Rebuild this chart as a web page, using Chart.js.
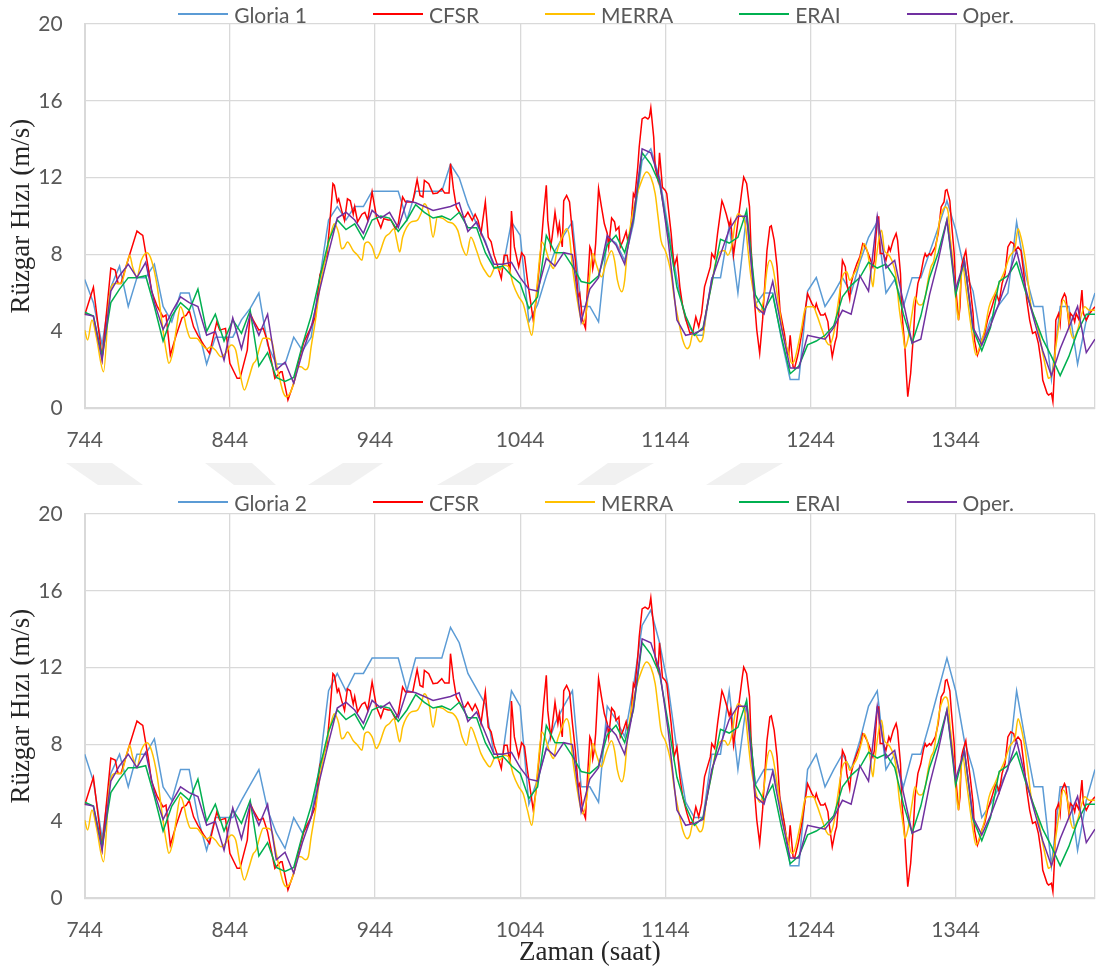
<!DOCTYPE html>
<html>
<head>
<meta charset="utf-8">
<title>Rüzgar Hızı</title>
<script src="https://cdn.jsdelivr.net/npm/chart.js@4.4.1/dist/chart.umd.min.js"></script>
<style>
  html, body { margin: 0; padding: 0; background: #fff; }
  body { width: 1096px; height: 966px; position: relative; overflow: hidden; }
  .wm { position: absolute; left: 0; top: 0; }
  canvas { position: absolute; left: 0; }
  #c1 { top: 0; }
  #c2 { top: 490px; }
  .legend {
    position: absolute; left: 0; width: 1192px; height: 28px;
    display: flex; justify-content: center; align-items: center; gap: 66px;
    font: 21px Lato, "Liberation Sans", sans-serif; color: #595959;
  }
  .legend .item { display: flex; align-items: center; white-space: nowrap; }
  .legend .sw { width: 50px; height: 0; border-top: 2px solid; margin-right: 6px; }
</style>
</head>
<body>
<svg class="wm" width="1096" height="966">
  <g fill="#f1f1f1">
    <polygon points="66,463 112,463 143,485 98,485"/>
    <polygon points="205,463 252,463 276,485 234,485"/>
    <polygon points="343,463 383,463 350,485 308,485"/>
    <polygon points="476,463 514,463 476,485 437,485"/>
    <polygon points="608,463 654,463 615,485 577,485"/>
    <polygon points="741,463 783,463 745,485 706,485"/>
  </g>
</svg>
<canvas id="c1" width="1096" height="470"></canvas>
<div class="legend" id="lg1" style="top:0"></div>
<canvas id="c2" width="1096" height="476"></canvas>
<div class="legend" id="lg2" style="top:488px"></div>

<script>
// Hour labels shown on the time axis
const xTicks = [744, 844, 944, 1044, 1144, 1244, 1344];
const hourMin = 744;
const hourMax = 1440;

// Six-hourly time stamps (Gloria, ERAI, Oper.)
const hours6 = Array.from({ length: 117 }, (_, i) => 744 + 6 * i);

const gloria1Speed = [
  6.7, 5.5, 3.3, 6.3, 7.4, 5.3, 6.8, 6.8, 7.5, 5.3,
  4.5, 6.0, 6.0, 4.2, 2.3, 3.7, 3.7, 3.7, 4.6, 5.2,
  6.0, 3.3, 2.3, 2.3, 3.7, 3.0, 3.7, 6.8, 9.8, 10.5,
  9.8, 10.5, 10.5, 11.3, 11.3, 11.3, 11.3, 9.8, 11.3, 11.3,
  11.3, 11.3, 12.7, 12.0, 10.6, 9.6, 8.7, 7.3, 7.3, 9.7,
  9.0, 4.5, 5.4, 6.9, 8.2, 9.0, 9.7, 5.3, 5.3, 4.5,
  8.9, 8.6, 7.7, 9.6, 12.9, 13.5, 12.0, 9.4, 6.7, 4.6,
  3.8, 3.8, 6.8, 6.8, 9.5, 6.0, 10.1, 5.4, 6.0, 6.0,
  3.6, 1.5, 1.5, 6.1, 6.8, 5.3, 6.0, 6.8, 6.0, 7.6,
  8.9, 9.7, 6.0, 6.7, 5.3, 6.8, 6.8, 8.1, 9.4, 10.8,
  9.3, 7.2, 6.1, 3.3, 4.6, 5.4, 6.0, 9.7, 7.0, 5.3,
  5.3, 1.5, 5.3, 5.3, 2.3, 4.6, 6.0
];

const gloria2Speed = [
  7.5, 6.1, 3.1, 6.5, 7.5, 5.8, 7.5, 7.5, 8.3, 5.8,
  5.1, 6.7, 6.7, 4.2, 2.5, 4.2, 4.2, 4.2, 5.1, 5.9,
  6.7, 4.6, 3.4, 2.6, 4.2, 3.4, 4.2, 7.0, 10.8, 11.7,
  10.8, 11.7, 11.7, 12.5, 12.5, 12.5, 12.5, 10.8, 12.5, 12.5,
  12.5, 12.5, 14.1, 13.3, 11.7, 10.9, 10.1, 7.5, 7.5, 10.8,
  10.0, 4.9, 6.2, 7.8, 9.1, 10.0, 10.8, 5.8, 5.8, 5.0,
  10.0, 9.3, 8.4, 11.0, 14.2, 15.0, 13.3, 11.0, 7.7, 5.0,
  4.2, 4.2, 7.5, 7.5, 10.8, 6.7, 10.2, 5.9, 6.7, 6.7,
  4.9, 1.7, 1.7, 6.7, 7.5, 5.8, 6.7, 7.5, 6.7, 8.2,
  10.0, 10.8, 6.7, 7.5, 5.8, 7.5, 7.5, 9.1, 10.8, 12.5,
  10.8, 8.2, 6.7, 4.2, 4.9, 5.8, 6.7, 10.8, 8.2, 5.8,
  5.8, 1.7, 5.8, 5.8, 2.5, 5.1, 6.7
];

const eraiSpeed = [
  5.0, 4.8, 2.7, 5.5, 6.2, 6.8, 6.8, 6.9, 5.3, 3.5,
  4.8, 5.5, 5.1, 6.2, 4.0, 4.9, 3.5, 4.6, 3.9, 5.1,
  2.2, 2.9, 1.6, 1.4, 1.6, 3.3, 4.8, 6.8, 8.7, 9.8,
  9.3, 9.6, 8.8, 9.8, 10.0, 9.9, 9.2, 9.8, 10.6, 10.2,
  9.9, 10.0, 9.8, 10.2, 9.4, 9.4, 8.1, 7.3, 7.4, 6.9,
  6.5, 5.2, 5.8, 9.0, 8.1, 8.1, 7.4, 6.6, 6.5, 6.9,
  8.5, 9.0, 8.1, 9.8, 13.3, 12.7, 11.7, 9.1, 6.3, 4.8,
  3.8, 4.2, 6.5, 8.8, 8.6, 8.9, 10.3, 5.9, 5.1, 5.9,
  3.7, 1.8, 2.2, 3.3, 3.5, 3.8, 4.3, 5.8, 6.4, 6.8,
  7.6, 7.3, 7.5, 6.8, 4.9, 3.4, 4.8, 6.8, 8.1, 9.8,
  5.9, 7.7, 4.1, 3.0, 4.2, 6.6, 6.9, 7.6, 6.1, 4.8,
  3.6, 2.7, 1.7, 2.7, 4.0, 4.9, 4.9
];

const operSpeed = [
  4.9, 4.8, 2.5, 6.1, 6.9, 7.5, 6.8, 7.6, 5.5, 4.1,
  5.0, 5.8, 5.5, 5.3, 3.8, 4.0, 2.5, 4.7, 3.1, 4.9,
  3.8, 4.9, 2.0, 2.4, 1.3, 2.9, 4.2, 6.2, 8.1, 9.9,
  10.2, 9.8, 9.1, 10.3, 9.9, 10.2, 9.4, 10.8, 10.7, 10.5,
  10.3, 10.4, 10.5, 10.7, 9.2, 9.7, 8.6, 7.5, 7.5, 7.6,
  6.8, 6.2, 6.1, 7.8, 7.4, 8.1, 8.0, 4.5, 6.2, 6.8,
  9.0, 8.5, 7.5, 9.9, 13.5, 13.3, 11.9, 8.7, 4.6, 3.8,
  3.9, 4.1, 6.7, 8.0, 9.3, 10.0, 10.0, 5.3, 4.9, 6.6,
  4.2, 2.1, 2.1, 3.8, 3.7, 3.6, 4.2, 5.1, 4.9, 6.9,
  6.1, 10.0, 7.3, 7.7, 5.5, 3.4, 3.6, 5.9, 7.7, 9.8,
  6.2, 7.7, 4.2, 3.3, 4.3, 5.5, 6.8, 8.2, 6.3, 4.6,
  3.0, 1.7, 3.1, 4.2, 5.3, 2.9, 3.6
];

// CFSR hourly record, turning points
const cfsrHours = [
  744, 750, 756, 762, 765, 767, 769, 775, 780, 782, 784, 788, 790, 794, 798, 800, 803, 807, 811, 814,
  816, 819, 822, 826, 830, 835, 837, 841, 844, 849, 851, 856, 858, 860, 864, 867, 870, 875, 879, 880,
  884, 888, 891, 895, 899, 903, 906, 908, 911, 913, 915, 916, 918, 919, 921, 923, 925, 927, 929, 930,
  932, 935, 937, 939, 942, 945, 948, 950, 953, 955, 958, 960, 963, 965, 967, 970, 973, 975, 977, 978,
  981, 984, 987, 990, 992, 995, 996, 998, 1000, 1004, 1006, 1008, 1011, 1013, 1015, 1017, 1020, 1022, 1024, 1026,
  1028, 1031, 1033, 1035, 1037, 1038, 1040, 1043, 1045, 1047, 1049, 1051, 1053, 1055, 1058, 1060, 1062, 1063, 1065, 1066,
  1068, 1070, 1071, 1073, 1074, 1076, 1078, 1080, 1082, 1084, 1085, 1087, 1089, 1090, 1092, 1093, 1094, 1095, 1096, 1098,
  1100, 1102, 1104, 1105, 1107, 1109, 1110, 1112, 1113, 1115, 1117, 1118, 1120, 1122, 1123, 1125, 1126, 1128, 1130, 1132,
  1133, 1134, 1136, 1137, 1139, 1140, 1142, 1144, 1145, 1147, 1148, 1150, 1152, 1154, 1156, 1159, 1161, 1163, 1165, 1167,
  1169, 1171, 1174, 1175, 1176, 1178, 1180, 1183, 1184, 1186, 1188, 1189, 1191, 1193, 1195, 1197, 1198, 1200, 1202, 1203,
  1205, 1207, 1209, 1211, 1214, 1216, 1217, 1219, 1221, 1223, 1226, 1228, 1229, 1230, 1232, 1233, 1235, 1236, 1238, 1240,
  1242, 1245, 1247, 1248, 1249, 1251, 1253, 1254, 1256, 1257, 1259, 1261, 1262, 1264, 1266, 1268, 1269, 1271, 1272, 1274,
  1276, 1278, 1280, 1281, 1283, 1285, 1287, 1288, 1290, 1291, 1292, 1294, 1296, 1298, 1299, 1301, 1303, 1304, 1306, 1307,
  1309, 1310, 1311, 1313, 1315, 1316, 1318, 1320, 1322, 1323, 1324, 1326, 1327, 1330, 1332, 1334, 1336, 1337, 1338, 1340,
  1341, 1343, 1344, 1346, 1347, 1348, 1349, 1351, 1352, 1354, 1356, 1357, 1359, 1361, 1362, 1364, 1366, 1369, 1371, 1372,
  1374, 1376, 1378, 1380, 1382, 1384, 1385, 1387, 1389, 1391, 1393, 1395, 1397, 1399, 1401, 1403, 1404, 1407, 1408, 1410,
  1411, 1412, 1413, 1415, 1416, 1417, 1418, 1419, 1420, 1422, 1423, 1425, 1426, 1427, 1429, 1431, 1432, 1434, 1436, 1438,
  1440
];
const cfsrSpeed = [
  4.85, 6.3, 2.6, 7.3, 7.2, 6.5, 6.5, 8.0, 9.23, 9.1, 9.0, 7.2, 6.1, 5.3, 4.76, 4.85, 2.77, 3.8, 4.7, 4.85,
  5.1, 4.24, 3.8, 3.3, 2.86, 4.5, 4.07, 4.16, 2.34, 1.56, 1.56, 3.03, 4.94, 4.6, 4.07, 4.16, 3.46, 1.56, 1.9, 1.9,
  0.43, 1.3, 2.34, 3.46, 4.07, 4.76, 6.93, 7.36, 8.05, 9.78, 11.69, 11.6, 10.74, 10.9, 10.3, 9.78, 10.9, 10.8, 10.1, 10.5,
  9.7, 10.1, 10.2, 9.8, 11.26, 9.96, 9.4, 9.87, 9.8, 9.8, 9.35, 9.6, 11.0, 10.74, 10.74, 10.74, 11.9, 11.08, 11.0, 11.86,
  11.69, 11.17, 11.2, 11.43, 11.2, 11.2, 12.73, 11.43, 10.48, 9.96, 9.96, 10.2, 9.78, 10.1, 9.78, 9.1, 10.74, 8.9, 8.66, 7.97,
  7.53, 6.75, 7.97, 7.97, 7.0, 10.27, 8.4, 7.36, 8.1, 7.9, 6.67, 5.63, 4.59, 5.63, 8.05, 9.96, 11.6, 9.78, 8.4, 8.9,
  10.2, 9.1, 9.6, 8.4, 10.8, 11.08, 10.74, 9.1, 7.7, 5.8, 5.97, 4.59, 4.16, 5.8, 8.4, 8.2, 7.27, 7.7, 8.57, 11.43,
  10.48, 9.6, 9.1, 8.4, 9.9, 9.7, 9.26, 9.44, 8.4, 8.75, 9.2, 8.75, 9.2, 11.17, 11.0, 12.55, 13.6, 15.06, 15.15, 15.06,
  15.15, 15.64, 14.1, 12.55, 11.86, 13.3, 11.5, 11.34, 11.17, 9.78, 9.1, 7.36, 7.88, 6.32, 5.28, 4.4, 3.9, 3.98, 4.76, 4.24,
  4.94, 6.32, 7.1, 7.36, 8.05, 7.8, 9.1, 10.8, 10.6, 10.1, 9.5, 9.78, 7.97, 9.1, 10.3, 11.5, 12.03, 11.7, 10.48, 8.4,
  5.97, 4.07, 2.86, 4.6, 8.2, 9.44, 9.5, 8.74, 7.36, 5.1, 3.9, 2.86, 2.8, 3.8, 2.16, 2.08, 2.68, 3.03, 3.9, 4.94,
  5.97, 5.45, 5.2, 5.45, 5.2, 4.85, 4.85, 4.94, 4.5, 3.8, 2.68, 3.46, 3.72, 5.45, 7.7, 7.36, 6.5, 5.7, 6.5, 7.1,
  7.53, 7.88, 8.57, 8.5, 8.2, 7.8, 7.36, 7.7, 9.96, 9.96, 8.05, 8.05, 7.7, 8.4, 8.2, 8.74, 9.1, 8.74, 7.0, 4.94,
  3.2, 1.82, 0.6, 1.82, 3.9, 5.28, 6.5, 7.0, 7.8, 8.05, 7.9, 8.05, 7.97, 8.4, 9.1, 10.48, 10.74, 11.34, 11.38, 10.8,
  9.78, 8.05, 6.32, 4.59, 5.28, 7.36, 7.7, 8.2, 7.53, 6.32, 4.94, 3.55, 2.77, 3.2, 3.55, 3.9, 4.59, 5.28, 5.8, 5.97,
  5.54, 6.5, 7.0, 8.4, 8.66, 8.57, 8.2, 8.4, 8.2, 7.0, 5.63, 4.59, 3.9, 3.98, 3.38, 2.34, 1.47, 0.78, 0.69, 0.78,
  0.35, 1.82, 4.59, 4.94, 4.4, 5.63, 5.8, 5.97, 5.8, 4.4, 4.94, 4.76, 4.5, 4.94, 4.6, 6.15, 4.94, 4.59, 4.9, 5.1,
  5.28
];

// MERRA hourly record, turning points (drawn as a smooth curve)
const merraHours = [
  744, 746, 749, 752, 757, 761, 765, 769, 773, 775, 777, 780, 783, 787, 790, 794, 797, 800, 802, 805,
  807, 810, 812, 814, 817, 821, 825, 828, 831, 834, 838, 841, 845, 848, 851, 854, 857, 860, 862, 865,
  867, 870, 873, 875, 878, 881, 883, 886, 889, 891, 893, 896, 898, 900, 903, 906, 909, 913, 916, 919,
  921, 923, 925, 929, 932, 935, 937, 939, 942, 945, 947, 951, 954, 957, 959, 961, 963, 966, 969, 973,
  976, 978, 981, 984, 987, 991, 994, 998, 1001, 1004, 1007, 1010, 1014, 1017, 1021, 1023, 1027, 1030, 1033, 1036,
  1039, 1043, 1046, 1049, 1052, 1054, 1056, 1059, 1061, 1064, 1067, 1069, 1072, 1076, 1078, 1080, 1083, 1085, 1087, 1090,
  1092, 1094, 1097, 1100, 1103, 1107, 1109, 1111, 1114, 1116, 1118, 1121, 1124, 1127, 1131, 1134, 1137, 1139, 1141, 1144,
  1146, 1148, 1150, 1153, 1156, 1159, 1161, 1163, 1165, 1168, 1170, 1172, 1176, 1179, 1183, 1185, 1187, 1190, 1192, 1194,
  1196, 1199, 1201, 1203, 1206, 1209, 1212, 1214, 1216, 1218, 1221, 1223, 1225, 1229, 1231, 1233, 1235, 1238, 1240, 1242,
  1246, 1248, 1252, 1255, 1257, 1260, 1263, 1266, 1269, 1271, 1274, 1276, 1279, 1281, 1283, 1285, 1287, 1288, 1291, 1293,
  1295, 1297, 1300, 1303, 1305, 1308, 1309, 1311, 1314, 1316, 1318, 1320, 1323, 1325, 1327, 1329, 1331, 1333, 1335, 1337,
  1339, 1340, 1342, 1344, 1346, 1347, 1349, 1351, 1354, 1356, 1358, 1361, 1364, 1367, 1371, 1374, 1378, 1381, 1385, 1387,
  1389, 1392, 1394, 1396, 1399, 1401, 1404, 1407, 1408, 1411, 1413, 1416, 1418, 1421, 1423, 1425, 1428, 1431, 1433, 1436,
  1440
];
const merraSpeed = [
  4.07, 3.55, 4.6, 3.72, 1.9, 5.8, 6.5, 6.5, 7.53, 7.97, 7.36, 6.84, 7.7, 8.09, 7.7, 6.32, 4.59, 3.03, 2.34, 3.03,
  4.07, 5.28, 4.94, 4.24, 3.64, 3.64, 3.3, 3.1, 3.2, 3.03, 2.68, 2.86, 3.3, 3.03, 1.82, 0.95, 1.56, 2.3, 2.5, 3.3,
  3.64, 3.64, 3.46, 2.68, 1.64, 0.78, 0.6, 0.87, 1.56, 2.16, 2.16, 2.0, 2.16, 3.2, 4.59, 6.32, 7.53, 8.9, 9.6, 9.1,
  8.3, 8.4, 8.66, 8.2, 7.97, 7.7, 8.57, 8.66, 8.4, 7.8, 8.05, 8.9, 9.1, 9.35, 8.74, 8.14, 8.9, 9.44, 9.7, 9.78,
  10.2, 10.65, 10.2, 8.9, 9.96, 9.87, 9.7, 9.6, 9.26, 8.4, 7.97, 8.9, 8.2, 7.53, 7.0, 6.84, 7.36, 7.2, 7.45, 7.36,
  6.5, 5.8, 5.45, 4.59, 3.8, 4.94, 6.67, 8.66, 8.4, 7.7, 7.27, 8.05, 8.74, 9.35, 8.9, 7.36, 5.8, 4.94, 4.4, 5.28,
  7.0, 8.05, 7.36, 6.84, 7.53, 8.2, 7.7, 6.67, 6.06, 6.67, 8.4, 9.96, 11.0, 11.7, 12.3, 12.03, 11.17, 9.96, 8.74, 8.2,
  7.7, 7.0, 5.8, 4.59, 3.55, 3.1, 3.3, 3.9, 3.8, 3.46, 3.72, 4.94, 6.5, 7.7, 8.2, 8.2, 7.97, 8.57, 9.6, 10.13,
  10.04, 9.6, 8.2, 6.84, 5.63, 5.0, 5.8, 7.2, 7.7, 7.36, 5.97, 4.94, 3.9, 2.86, 2.34, 2.5, 3.12, 4.24, 5.1, 5.28,
  5.28, 4.94, 4.07, 3.46, 3.3, 3.9, 5.45, 6.84, 7.1, 6.67, 7.0, 7.27, 8.05, 8.57, 8.2, 7.36, 6.32, 7.0, 8.74, 9.26,
  8.2, 8.05, 7.7, 6.84, 5.28, 3.72, 3.12, 3.55, 4.94, 5.8, 5.45, 5.37, 5.8, 6.67, 7.36, 7.7, 8.74, 9.78, 10.3, 10.48,
  10.13, 9.1, 7.7, 5.8, 4.59, 5.97, 7.36, 6.32, 4.59, 3.55, 2.77, 3.3, 4.07, 5.28, 5.97, 6.5, 7.2, 7.88, 8.4, 9.35,
  8.9, 7.7, 6.5, 5.28, 4.59, 4.07, 2.86, 1.82, 1.56, 2.0, 3.2, 4.76, 5.63, 5.1, 4.07, 3.64, 4.07, 4.94, 5.28, 5.1,
  5.1
];

const seriesColors = {
  gloria: '#5B9BD5',
  cfsr: '#FF0000',
  merra: '#FFC000',
  erai: '#00B050',
  oper: '#7030A0'
};

const toPoints = (xs, ys) => xs.map((x, i) => ({ x, y: ys[i] }));

const tickFont = { family: 'Lato, "Liberation Sans", sans-serif', size: 21 };
const titleFont = { family: '"Liberation Serif", "Times New Roman", serif', size: 27 };
const plotLeft = 84.7;
const plotBottom = 408.3;

function buildChart(canvasId, legendId, gloriaName, gloriaSpeed, showTimeTitle) {
  const canvas = document.getElementById(canvasId);
  const datasets = [
    { label: gloriaName, data: toPoints(hours6, gloriaSpeed), borderColor: seriesColors.gloria, order: 5 },
    { label: 'CFSR', data: toPoints(cfsrHours, cfsrSpeed), borderColor: seriesColors.cfsr, order: 4 },
    { label: 'MERRA', data: toPoints(merraHours, merraSpeed), borderColor: seriesColors.merra, order: 3,
      cubicInterpolationMode: 'monotone' },
    { label: 'ERAI', data: toPoints(hours6, eraiSpeed), borderColor: seriesColors.erai, order: 2 },
    { label: 'Oper.', data: toPoints(hours6, operSpeed), borderColor: seriesColors.oper, order: 1 }
  ];

  const chart = new Chart(canvas, {
    type: 'line',
    data: { datasets },
    options: {
      responsive: false,
      animation: false,
      devicePixelRatio: 1,
      layout: { padding: { left: 0, right: 1, top: 24, bottom: 0 } },
      elements: {
        point: { radius: 0 },
        line: { borderWidth: 1.5, tension: 0, fill: false }
      },
      plugins: { legend: { display: false }, tooltip: { enabled: false } },
      scales: {
        x: {
          type: 'linear',
          min: hourMin,
          max: hourMax,
          afterBuildTicks: axis => {
            axis.ticks = xTicks.concat([hourMax]).map(v => ({ value: v }));
          },
          afterFit: scale => {
            // fixed band under the plot; no extra side padding for end labels
            scale.height = canvas.height - plotBottom;
            scale.paddingLeft = 0;
            scale.paddingRight = 0;
          },
          ticks: {
            autoSkip: false,
            maxRotation: 0,
            padding: 19,
            color: '#595959',
            font: tickFont,
            callback: v => (xTicks.includes(v) ? String(v) : '')
          },
          grid: { color: '#d9d9d9', lineWidth: 1.3, drawTicks: false },
          border: { color: '#d9d9d9', width: 2 },
          title: {
            display: showTimeTitle,
            text: 'Zaman (saat)',
            color: '#262626',
            font: Object.assign({ lineHeight: 1 }, titleFont),
            padding: { top: 0, bottom: 0 }
          }
        },
        y: {
          min: 0,
          max: 20,
          afterFit: scale => {
            scale.width = plotLeft;
            scale.paddingTop = 0;
            scale.paddingBottom = 0;
          },
          ticks: { stepSize: 4, padding: 22, color: '#595959', font: tickFont },
          grid: { color: '#d9d9d9', lineWidth: 1.3, drawTicks: false },
          border: { color: '#d9d9d9', width: 2 },
          title: {
            display: true,
            text: 'Rüzgar Hızı (m/s)',
            color: '#262626',
            font: Object.assign({ lineHeight: 1.2 }, titleFont),
            padding: { top: 6, bottom: 0 }
          }
        }
      }
    }
  });

  // Legend row built from the chart's own datasets, in series order
  const legend = document.getElementById(legendId);
  chart.data.datasets.forEach(ds => {
    const item = document.createElement('div');
    item.className = 'item';
    const sw = document.createElement('span');
    sw.className = 'sw';
    sw.style.borderTopColor = ds.borderColor;
    const txt = document.createElement('span');
    txt.textContent = ds.label;
    item.appendChild(sw);
    item.appendChild(txt);
    legend.appendChild(item);
  });
  return chart;
}

buildChart('c1', 'lg1', 'Gloria 1', gloria1Speed, false);
buildChart('c2', 'lg2', 'Gloria 2', gloria2Speed, true);
</script>
</body>
</html>
